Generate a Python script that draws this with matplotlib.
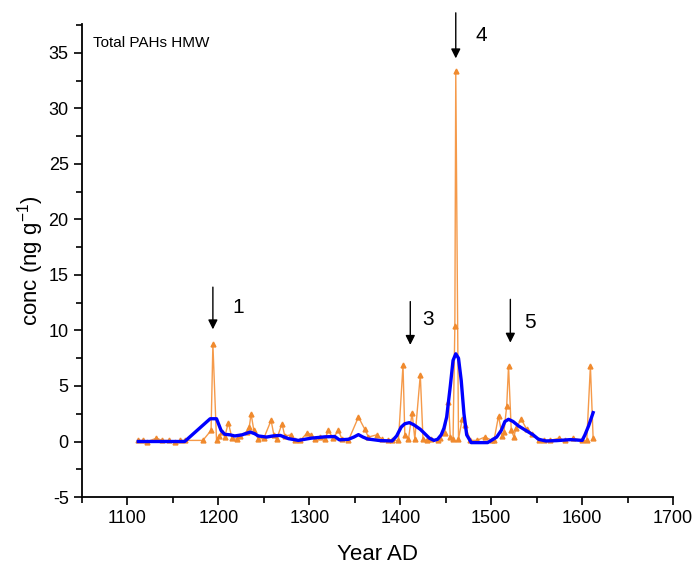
import matplotlib
matplotlib.use("Agg")
import matplotlib.pyplot as plt
from matplotlib.ticker import MultipleLocator

plt.rcParams['font.family'] = ['Liberation Sans', 'DejaVu Sans']
plt.rcParams['axes.unicode_minus'] = False
plt.rcParams['mathtext.default'] = 'regular'

# measured PAH concentrations (orange)
years = [1112, 1117, 1122, 1132, 1138, 1146, 1152, 1158, 1163, 1183, 1192, 1194, 1198, 1201,
         1204, 1207, 1211, 1215, 1220, 1224, 1231, 1234, 1236, 1239, 1244, 1250, 1258, 1261,
         1264, 1270, 1273, 1280, 1284, 1290, 1298, 1302, 1306, 1312, 1317, 1321, 1326, 1332,
         1336, 1343, 1354, 1361, 1365, 1374, 1380, 1387, 1391, 1398, 1403, 1405, 1409, 1413,
         1416, 1422, 1425, 1429, 1434, 1441, 1444, 1449, 1453, 1455, 1458, 1460, 1461, 1464,
         1468, 1471, 1477, 1484, 1493, 1501, 1503, 1508, 1512, 1514, 1517, 1519, 1522, 1525,
         1527, 1533, 1539, 1545, 1552, 1558, 1565, 1574, 1581, 1590, 1600, 1605, 1609, 1612]
conc = [0.1, 0.1, 0.0, 0.3, 0.1, 0.1, 0.0, 0.1, 0.1, 0.1, 1.0, 8.8, 0.1, 0.5,
        0.9, 0.4, 1.7, 0.3, 0.2, 0.5, 0.9, 1.3, 2.5, 1.0, 0.2, 0.3, 1.9, 0.6,
        0.2, 1.6, 0.5, 0.6, 0.1, 0.1, 0.8, 0.6, 0.2, 0.4, 0.2, 1.0, 0.3, 1.0,
        0.2, 0.1, 2.2, 1.1, 0.4, 0.6, 0.2, 0.1, 0.1, 0.1, 6.9, 0.6, 0.2, 2.6,
        0.2, 6.0, 0.2, 0.1, 0.2, 0.1, 0.3, 0.8, 3.6, 0.4, 0.2, 10.4, 33.4, 0.2,
        2.0, 1.5, 0.1, 0.1, 0.4, 0.1, 0.1, 2.3, 0.5, 0.9, 3.2, 6.8, 1.0, 0.4,
        1.2, 2.0, 1.1, 0.7, 0.1, 0.1, 0.1, 0.3, 0.1, 0.3, 0.1, 0.1, 6.8, 0.3]

# smoothed curve (blue)
smooth_years = [1112, 1163, 1191, 1198, 1203, 1207, 1213, 1218, 1226, 1235, 1240, 1244, 1253,
                1260, 1268, 1277, 1288, 1302, 1317, 1328, 1333, 1343, 1349, 1354, 1359, 1364,
                1378, 1391, 1396, 1401, 1405, 1410, 1415, 1422, 1427, 1432, 1437, 1441, 1445,
                1448, 1451, 1455, 1458, 1461, 1464, 1467, 1470, 1473, 1478, 1496, 1500, 1506,
                1511, 1515, 1519, 1524, 1530, 1538, 1546, 1552, 1560, 1572, 1587, 1600, 1603,
                1607, 1612]
smooth_conc = [0.0, 0.0, 2.05, 2.05, 1.0, 0.65, 0.6, 0.5, 0.6, 0.85, 0.7, 0.5, 0.4,
               0.5, 0.55, 0.26, 0.1, 0.3, 0.42, 0.45, 0.15, 0.2, 0.4, 0.62, 0.4, 0.23,
               0.08, 0.05, 0.5, 1.3, 1.6, 1.7, 1.5, 1.1, 0.7, 0.3, 0.1, 0.2, 0.6,
               1.2, 2.2, 5.0, 7.3, 7.9, 7.5, 5.5, 2.5, 0.6, -0.1, -0.1, 0.1, 0.4,
               1.0, 1.8, 2.0, 1.8, 1.4, 1.0, 0.6, 0.2, 0.05, 0.08, 0.17, 0.1, 0.6,
               1.4, 2.6]

# event arrows
event_labels = ['1', '3', '4', '5']
event_years = [1194, 1411, 1461, 1521]
arrow_top = [13.9, 12.6, 38.6, 12.8]
arrow_bottom = [10.1, 8.7, 34.5, 8.9]
label_x = [1222, 1431, 1489, 1543]
label_y = [12.1, 11.0, 36.6, 10.7]

fig = plt.figure(figsize=(6.94, 5.70), dpi=100)
ax = fig.add_axes([0.118, 0.128, 0.852, 0.830])

ax.plot(years, conc, color='#F59A4A', lw=1.0, marker='^', ms=3.5,
        markerfacecolor='#F08A2E', markeredgecolor='#F08A2E', zorder=2)
ax.plot(smooth_years, smooth_conc, color='#0000FF', lw=2.4, zorder=3)

for lab, xe, yt, yb, lx, ly in zip(event_labels, event_years, arrow_top, arrow_bottom, label_x, label_y):
    ax.annotate('', xy=(xe, yb), xytext=(xe, yt),
                arrowprops=dict(arrowstyle='-|>', color='black', lw=1.0,
                                mutation_scale=14, shrinkA=0, shrinkB=0),
                annotation_clip=False)
    ax.text(lx, ly, lab, fontsize=15, ha='center', va='center', clip_on=False)

ax.text(0.018, 0.975, 'Total PAHs HMW', transform=ax.transAxes, fontsize=11,
        ha='left', va='top')

ax.set_xlim(1050, 1700)
ax.set_ylim(-5, 37.6)
ax.xaxis.set_major_locator(MultipleLocator(100))
ax.xaxis.set_minor_locator(MultipleLocator(50))
ax.yaxis.set_major_locator(MultipleLocator(5))
ax.yaxis.set_minor_locator(MultipleLocator(2.5))
ax.tick_params(which='major', direction='out', length=6, width=1.2, labelsize=13)
ax.tick_params(which='minor', direction='out', length=4, width=1.2)

for side in ['top', 'right']:
    ax.spines[side].set_visible(False)
for side in ['left', 'bottom']:
    ax.spines[side].set_linewidth(1.3)

ax.set_xlabel('Year AD', fontsize=16, labelpad=12)
ax.set_ylabel('conc (ng g$^{-1}$)', fontsize=16, labelpad=2)

fig.savefig('out.png', dpi=100)
